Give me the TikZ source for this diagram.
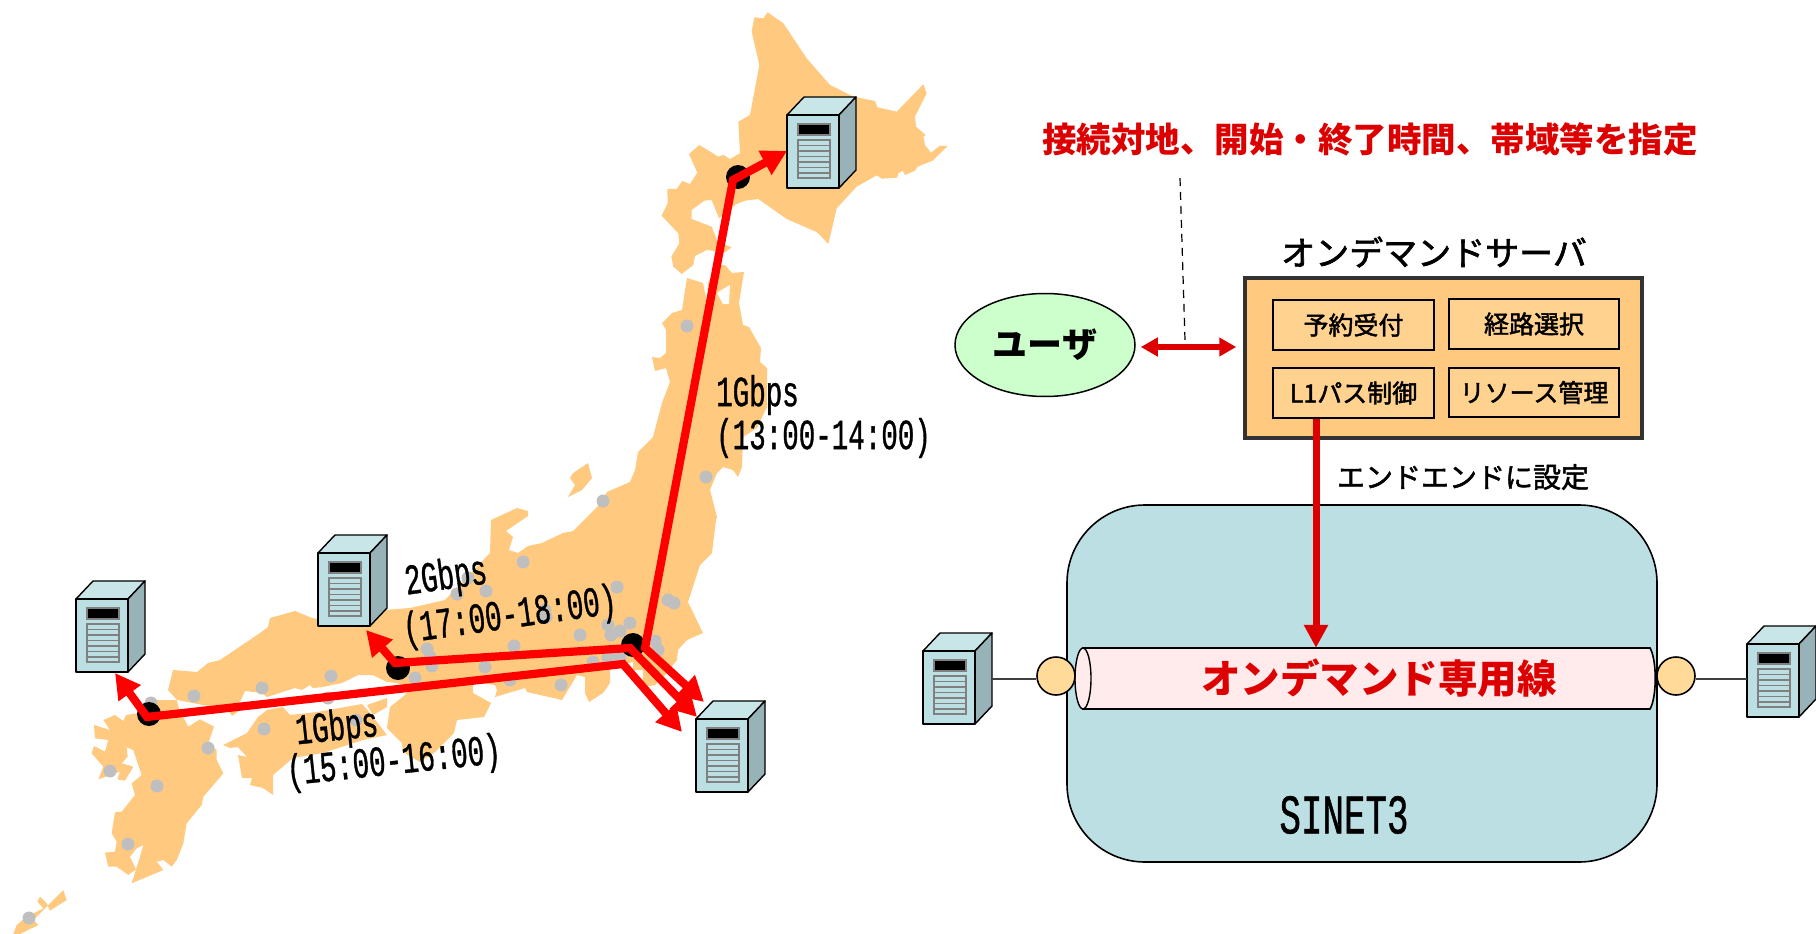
\documentclass[tikz,border=0pt]{standalone}
\usepackage{fontspec}
\usetikzlibrary{arrows.meta,shapes.geometric,calc}
\setmainfont{Liberation Sans}
\newfontfamily\jpf{Noto Sans CJK JP}
\newfontfamily\jpm[FakeBold=1.8]{Noto Sans CJK JP}
\newfontfamily\narf[FakeStretch=0.64,FakeBold=0.8]{Liberation Mono}
\definecolor{mapc}{HTML}{FFC97F}
\definecolor{dotc}{HTML}{BFBFBF}
\definecolor{ared}{HTML}{DD0000}
\definecolor{front}{HTML}{BBDFE3}
\definecolor{topc}{HTML}{C8E6E8}
\definecolor{sidec}{HTML}{97B3B7}
\definecolor{innerc}{HTML}{FFD28F}
\definecolor{tubec}{HTML}{FFEBEC}
\definecolor{portc}{HTML}{FFDA99}
\tikzset{
  mapland/.style={fill=mapc,draw=none},
  citydot/.style={fill=dotc,draw=none},
  hub/.style={fill=black,draw=none},
  routeboth/.style={draw=red,line width=8.2pt,miter limit=6,{Triangle[length=25pt,width=26pt]}-{Triangle[length=25pt,width=26pt]}},
  rate/.style={font=\narf\fontsize{43}{45}\selectfont,inner sep=0pt,text=black},
  funcbox/.style={draw=black,line width=1.5pt,fill=innerc,inner sep=0pt,font=\jpm\fontsize{25}{27}\selectfont},
  ctrl/.style={draw=ared,line width=6pt},
  pics/server/.style={code={
    \filldraw[fill=topc,draw=black,line width=1.4pt,line join=round] (0,0) -- (17,-18) -- (69,-18) -- (52,0) -- cycle;
    \filldraw[fill=sidec,draw=black,line width=1.4pt,line join=round] (52,0) -- (69,-18) -- (69,55) -- (52,73) -- cycle;
    \filldraw[fill=front,draw=black,line width=1.4pt,line join=round] (0,0) rectangle (52,73);
    \filldraw[fill=black,draw=gray,line width=1.3pt] (11,9) rectangle (43,20);
    \draw[gray,line width=1.2pt] (11,25) rectangle (43,63);
    \foreach \yy in {30.5,36,41.5,47,52.5,58} {\draw[gray,line width=1.2pt] (11,\yy) -- (43,\yy);}
  }}
}
\begin{document}
\begin{tikzpicture}[x=1pt,y=-1pt]
\useasboundingbox (0,0) rectangle (1816,934);
% ---------- map
\begin{scope}[shift={(640,0)},scale=0.33333]
\fill[mapland] (383,37)--(430,70)--(500,175)--(570,255)--(640,290)--(705,303)--(712,322)--(770,335)--(850,253)--(860,280)--(825,350)--(828,380)--(857,405)--(850,410)--(855,435)--(873,458)--(900,437)--(923,438)--(878,482)--(833,500)--(825,512)--(795,525)--(788,512)--(775,520)--(772,533)--(725,536)--(710,526)--(650,560)--(590,625)--(565,732)--(532,697)--(440,657)--(355,597)--(315,602)--(290,612)--(237,655)--(215,600)--(193,602)--(155,630)--(155,657)--(215,680)--(233,725)--(275,742)--(255,757)--(200,750)--(165,768)--(160,795)--(125,822)--(100,800)--(94,770)--(118,730)--(115,700)--(65,647)--(83,610)--(82,567)--(110,567)--(127,543)--(150,552)--(172,518)--(147,462)--(178,435)--(235,470)--(250,465)--(270,477)--(300,460)--(295,365)--(330,345)--(358,195)--(335,95)--(343,52)--(370,55)--cycle;
\end{scope}
% Honshu
\fill[mapland] (687,278)--(703,283)--(707,302)--(708,283)--(717,265)--(725,265)--(732,273)--(744,272)--(739,303)--(743,325)--(749,327)--(761,348)--(760,362)--(767,368)--(767,407)--(762,417)--(757,428)--(743,437)--(742,467)--(738,477)--(733,470)--(723,467)--(717,473)--(710,490)--(717,517)--(716,520)--(712,553)--(700,565)--(688,602)--(703,633)--(687,640)--(678,650)--(677,660)--(665,675)--(655,685)--(643,687)--(643,670)--(633,670)--(633,662)--(620,665)--(610,670)--(610,683)--(603,693)--(589,702)--(585,693)--(585,677)--(577,675)--(562,700)--(527,692)--(525,688)--(495,697)--(497,690)--(495,685)--(473,682)--(473,693)--(491,703)--(484,717)--(457,720)--(454,733)--(435,752)--(420,762)--(403,752)--(402,743)--(387,728)--(390,707)--(405,695)--(410,688)--(397,683)--(387,682)--(373,675)--(358,675)--(342,683)--(323,687)--(313,688)--(310,685)--(302,690)--(295,688)--(267,697)--(262,693)--(245,691)--(240,702)--(240,710)--(232,716)--(227,708)--(203,705)--(177,700)--(168,690)--(173,670)--(197,672)--(208,663)--(220,660)--(260,633)--(268,627)--(270,618)--(295,611)--(312,618)--(325,620)--(385,610)--(410,608)--(445,600)--(490,553)--(491,520)--(517,508)--(528,511)--(528,516)--(506,531)--(513,537)--(509,550)--(518,553)--(528,546)--(542,543)--(563,533)--(573,531)--(597,507)--(607,492)--(630,482)--(635,470)--(638,452)--(653,437)--(662,403)--(670,382)--(666,368)--(655,371)--(652,357)--(660,358)--(666,353)--(666,330)--(662,323)--(672,313)--(682,310)--cycle;
\fill[white] (730,285)--(729,304)--(723,304)--(717,293)--(723,289)--cycle;
% Sado
\fill[mapland] (588,463)--(592,478)--(582,490)--(568,497)--(575,485)--(570,478)--(573,473)--cycle;
% Awaji
\fill[mapland] (367,705)--(387,698)--(387,707)--(373,715)--cycle;
% Shikoku
\fill[mapland] (223,745)--(247,733)--(258,717)--(267,710)--(283,707)--(290,715)--(317,712)--(362,704)--(370,713)--(387,735)--(363,740)--(323,753)--(293,758)--(273,775)--(273,795)--(263,788)--(250,785)--(252,778)--(242,778)--(238,755)--(247,757)--(238,747)--(230,748)--cycle;
% Kyushu and the southern islands
\begin{scope}[shift={(0,520)},scale=0.33333]
\fill[mapland] (450,540)--(530,540)--(538,570)--(565,620)--(600,598)--(642,620)--(625,670)--(650,690)--(650,720)--(670,760)--(610,830)--(605,855)--(560,910)--(550,970)--(530,1020)--(515,1040)--(490,1020)--(470,1025)--(490,1050)--(395,1090)--(420,1010)--(430,975)--(410,985)--(390,1010)--(408,1048)--(385,1065)--(350,1040)--(325,1040)--(315,998)--(345,995)--(350,965)--(335,940)--(345,877)--(365,875)--(405,825)--(395,790)--(425,765)--(400,690)--(380,682)--(383,710)--(365,730)--(400,740)--(375,782)--(352,778)--(360,755)--(295,778)--(310,740)--(275,700)--(282,678)--(315,695)--(325,660)--(285,655)--(282,615)--(330,630)--(310,600)--(345,585)--(370,603)--(378,585)--(410,580)--cycle;
\fill[mapland] (190,1110)--(200,1140)--(150,1172)--(140,1150)--(120,1130)--(112,1145)--(130,1165)--(80,1190)--(50,1215)--(40,1242)--(60,1242)--(115,1215)--(100,1200)--cycle;
\end{scope}
% ---------- city dots
\foreach \p in {(151,703),(194,696),(262,688),(331,676),(328,698),(356,720),(264,729),(208,748),(110,771),(157,786),(128,844),(29,918),(706,477),(603,501),(523,562),(617,587),(668,600),(674,603),(457,594),(486,591),(468,578),(545,610),(546,617),(608,625),(630,623),(611,635),(620,631),(580,635),(655,641),(658,650),(514,646),(427,649),(430,657),(432,666),(485,667),(415,678),(510,680),(593,662),(608,657),(620,657),(561,685),(687,326)}
  {\fill[citydot] \p circle[radius=6.5pt];}
% ---------- hubs
\node[hub,circle,minimum size=24pt,inner sep=0pt] (hubN) at (738,177) {};
\node[hub,circle,minimum size=24pt,inner sep=0pt] (hubW) at (149,714) {};
\node[hub,circle,minimum size=24pt,inner sep=0pt] (hubC) at (398,668) {};
\node[hub,circle,minimum size=24pt,inner sep=0pt] (hubT) at (633,645) {};
% ---------- routes on the map
\coordinate (tipN) at (787,151);
\coordinate (cornerN) at (733,180);
\coordinate (cornerT1) at (645,648);
\coordinate (tipE1) at (704,702);
\coordinate (tipC) at (366,630);
\coordinate (cornerC) at (395,663);
\coordinate (cornerT2) at (630,648);
\coordinate (tipE2) at (697,717);
\coordinate (tipW) at (115,673);
\coordinate (cornerW) at (147,717);
\coordinate (cornerT3) at (623,664);
\coordinate (tipE3) at (682,732);
\draw[routeboth] (tipE1) -- (cornerT1) -- (cornerN) -- (tipN);
\draw[routeboth] (tipC) -- (cornerC) -- (cornerT2) -- (tipE2);
\draw[routeboth] (tipW) -- (cornerW) -- (cornerT3) -- (tipE3);
% ---------- servers on the map
\pic (s1) at (787,115) {server};
\pic (s2) at (76,599) {server};
\pic (s3) at (318,553) {server};
\pic (s4) at (696,719) {server};
% ---------- rate labels
\node[rate,anchor=west] (r1a) at (716,395) {1Gbps};
\node[rate,anchor=west] (r1b) at (716,438) {(13:00-14:00)};
\node[rate,rotate=8] (r2a) at (446,578) {2Gbps};
\node[rate,rotate=8] (r2b) at (510,617) {(17:00-18:00)};
\node[rate,rotate=6] (r3a) at (337,729) {1Gbps};
\node[rate,rotate=6] (r3b) at (394,763) {(15:00-16:00)};
% ---------- right side
\node[text=ared,inner sep=0pt,font=\jpf\bfseries\fontsize{34.5}{36}\selectfont] (note) at (1370,139) {接続対地、開始・終了時間、帯域等を指定};
\node[inner sep=0pt,font=\jpm\fontsize{34}{36}\selectfont] (srvtitle) at (1434,252) {オンデマンドサーバ};
\node[draw=black!80,line width=3.5pt,fill=mapc,minimum width=397pt,minimum height=160pt,inner sep=0pt] (srv) at (1443.5,358) {};
\node[funcbox,minimum width=161pt,minimum height=50pt] (f1) at (1353.5,325) {予約受付};
\node[funcbox,minimum width=170pt,minimum height=50pt] (f2) at (1534,324) {経路選択};
\node[funcbox,minimum width=161pt,minimum height=50pt] (f3) at (1353.5,393) {L1パス制御};
\node[funcbox,minimum width=170pt,minimum height=49pt] (f4) at (1534,392.5) {リソース管理};
\node[ellipse,draw=black,line width=1.5pt,fill=green!20!white,minimum width=180pt,minimum height=103pt,inner sep=0pt,font=\jpf\bfseries\fontsize{35}{38}\selectfont] (user) at (1045,345) {ユーザ};
\coordinate (dashA) at (1180,178);
\coordinate (dashB) at (1185,340);
\draw[line width=1.2pt,dash pattern=on 8pt off 6pt] (dashA) -- (dashB);
\coordinate (linkY) at (0,347);
\draw[ctrl,{Triangle[length=17pt,width=18pt]}-{Triangle[length=17pt,width=18pt]},shorten <=5pt,shorten >=7pt] (user.east |- linkY) -- (srv.west |- linkY);
\node[inner sep=0pt,font=\jpm\fontsize{28}{30}\selectfont] (e2e) at (1463,477) {エンドエンドに設定};
% SINET cloud
\node[draw=black,line width=1.6pt,fill=front,rounded corners=78pt,minimum width=590pt,minimum height=357pt,inner sep=0pt] (cloud) at (1362,683.5) {};
\node[inner sep=0pt,font=\narf\fontsize{56}{58}\selectfont] (sinet) at (1344,815) {SINET3};
% tube
\filldraw[fill=tubec,draw=black,line width=1.6pt] (1083,648) -- (1650,648) .. controls (1657,660) and (1657,697) .. (1650,709) -- (1083,709) -- cycle;
\filldraw[fill=tubec,draw=black,line width=1.4pt] (1083,678.5) ellipse[x radius=8,y radius=30.5];
\node[text=ared,inner sep=0pt,minimum width=575pt,minimum height=61pt,font=\jpf\bfseries\fontsize{39.5}{42}\selectfont] (tube) at (1379,678.5) {オンデマンド専用線};
% ports and server links
\node[circle,draw=black,line width=1.6pt,fill=portc,minimum size=38pt,inner sep=0pt] (pL) at (1056,676) {};
\node[circle,draw=black,line width=1.6pt,fill=portc,minimum size=38pt,inner sep=0pt] (pR) at (1676,676) {};
\pic (s5) at (923,651) {server};
\pic (s6) at (1747,644) {server};
\coordinate (s5side) at (992,679);
\coordinate (s6side) at (1747,679);
\draw[black!75,line width=1.5pt] (s5side) -- (pL.west |- s5side);
\draw[black!75,line width=1.5pt] (pR.east |- s6side) -- (s6side);
% control arrow
\coordinate (ax) at (1316,0);
\draw[draw=ared,line width=7pt,-{Triangle[length=23pt,width=23pt]}] (ax |- f3.south) -- (ax |- tube.north);
\end{tikzpicture}
\end{document}
